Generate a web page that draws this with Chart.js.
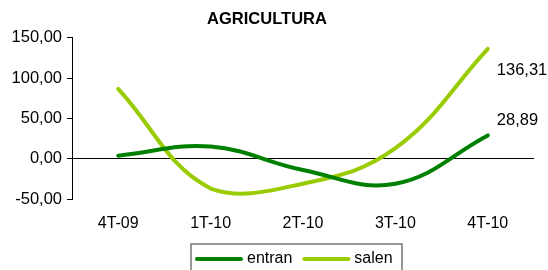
<!DOCTYPE html>
<html>
<head>
<meta charset="utf-8">
<script src="https://cdn.jsdelivr.net/npm/chart.js@4"></script>
<style>
  html, body { margin: 0; padding: 0; background: #fff; }
  #wrap { width: 548px; height: 270px; position: relative; }
</style>
</head>
<body>
<div id="wrap"><canvas id="agriChart" width="548" height="270"></canvas></div>
<script>
// chart data
const categories = ["4T-09", "1T-10", "2T-10", "3T-10", "4T-10"];
const entran = [3.8, 15, -14, -31, 28.89];
const salen = [86.6, -37, -31, 13, 136.31];
const yTicks = [-50, 0, 50, 100, 150];

const FONT = "'Liberation Sans', Arial, sans-serif";
const fmt = v => v.toFixed(2).replace(".", ",");

// last value label to the right of each line end
const endLabels = {
  id: "endLabels",
  afterDatasetsDraw(chart) {
    const ctx = chart.ctx;
    ctx.save();
    ctx.font = "16.5px " + FONT;
    ctx.fillStyle = "#000";
    ctx.textBaseline = "middle";
    chart.data.datasets.forEach((ds, i) => {
      const meta = chart.getDatasetMeta(i);
      const last = meta.data[meta.data.length - 1];
      const val = ds.data[ds.data.length - 1];
      ctx.fillText(fmt(val), last.x + 9, last.y + ds.labelShift);
    });
    ctx.restore();
  }
};

// legend drawn in a framed box under the axis
const boxLegend = {
  id: "boxLegend",
  afterDraw(chart) {
    const ctx = chart.ctx;
    const left = 191, top = 244, right = 402;
    ctx.save();
    ctx.strokeStyle = "#777";
    ctx.lineWidth = 1.5;
    ctx.strokeRect(left, top, right - left, 40);
    ctx.font = "16px " + FONT;
    ctx.textBaseline = "middle";
    let x = left + 4;
    const y = 259;
    chart.data.datasets.forEach(ds => {
      ctx.strokeStyle = ds.borderColor;
      ctx.lineWidth = 4;
      ctx.lineCap = "round";
      ctx.beginPath();
      ctx.moveTo(x + 2, y);
      ctx.lineTo(x + 46, y);
      ctx.stroke();
      x += 52;
      ctx.fillStyle = "#000";
      ctx.fillText(ds.label, x, y);
      x += ctx.measureText(ds.label).width + 10;
    });
    ctx.restore();
  }
};

new Chart(document.getElementById("agriChart").getContext("2d"), {
  type: "line",
  data: {
    labels: categories,
    datasets: [
      {
        label: "entran",
        data: entran,
        borderColor: "#008000",
        backgroundColor: "#008000",
        borderWidth: 4,
        borderCapStyle: "round",
        pointRadius: 0,
        tension: 0.4,
        labelShift: -15
      },
      {
        label: "salen",
        data: salen,
        borderColor: "#99CC00",
        backgroundColor: "#99CC00",
        borderWidth: 4,
        borderCapStyle: "round",
        pointRadius: 0,
        tension: 0.4,
        labelShift: 22
      }
    ]
  },
  options: {
    responsive: false,
    animation: false,
    layout: { padding: { left: 0, right: 14, top: 0, bottom: 41 } },
    plugins: {
      title: {
        display: true,
        text: "AGRICULTURA",
        color: "#000",
        font: { family: FONT, size: 16.5, weight: "bold" },
        padding: { top: 10, bottom: 8 }
      },
      legend: { display: false },
      tooltip: { enabled: false }
    },
    scales: {
      x: {
        offset: true,
        afterFit(scale) { scale.height = 30; },
        grid: { display: false, drawTicks: false },
        border: { display: false },
        ticks: {
          color: "#000",
          padding: 15,
          font: { family: FONT, size: 16 }
        }
      },
      y: {
        min: -50,
        max: 150,
        afterFit(scale) { scale.width = 72; },
        afterBuildTicks(scale) { scale.ticks = yTicks.map(v => ({ value: v })); },
        border: { display: true, color: "#000", width: 1 },
        grid: {
          color: c => (c.tick && c.tick.value === 0 ? "#000" : "rgba(0,0,0,0)"),
          tickColor: "#000",
          tickLength: 5,
          lineWidth: 1
        },
        ticks: {
          color: "#000",
          padding: 5,
          font: { family: FONT, size: 16.5 },
          callback: v => fmt(v)
        }
      }
    }
  },
  plugins: [endLabels, boxLegend]
});
</script>
</body>
</html>
